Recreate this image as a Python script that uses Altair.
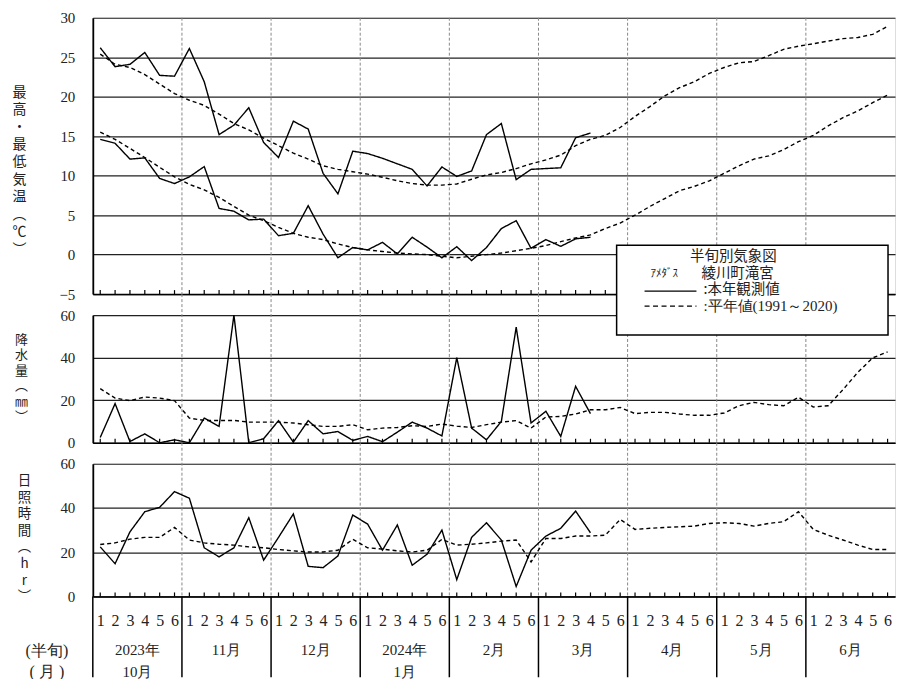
import altair as alt
import pandas as pd

# ---------------- data ----------------
pentads = list(range(1, 55))
month_labels = ["2023年\n10月", "11月", "12月", "2024年\n1月", "2月", "3月", "4月", "5月", "6月"]
month_centers = [3.5 + 6 * k for k in range(9)]
month_bounds = [0.5 + 6 * k for k in range(9)]

tmax_obs = [26.2, 23.8, 24.1, 25.6, 22.7, 22.6, 26.1, 21.9, 15.2, 16.4,
            18.6, 14.2, 12.3, 16.9, 15.9, 10.3, 7.7, 13.1, 12.8, 12.2,
            11.5, 10.8, 8.7, 11.1, 9.9, 10.6, 15.2, 16.6, 9.5, 10.8,
            10.9, 11.0, 14.8, 15.4]
tmax_norm = [25.4, 24.1, 23.7, 22.8, 21.6, 20.4, 19.55, 18.9, 17.8, 16.6,
             15.8, 14.75, 13.8, 12.85, 12.1, 11.25, 10.8, 10.5, 10.2, 9.8,
             9.35, 9.0, 8.8, 8.8, 8.95, 9.55, 10.1, 10.4, 10.9, 11.5,
             12.0, 12.6, 13.8, 14.6, 15.1, 16.1, 17.5, 18.75, 20.1, 21.15,
             21.9, 22.95, 23.7, 24.3, 24.45, 25.2, 26.0, 26.4, 26.7, 27.05,
             27.35, 27.5, 27.9, 28.9]
tmin_obs = [14.6, 14.1, 12.1, 12.25, 9.65, 9.0, 9.85, 11.15, 5.85, 5.5,
            4.4, 4.5, 2.4, 2.7, 6.2, 2.6, -0.4, 0.9, 0.6, 1.55,
            0.1, 2.2, 0.95, -0.4, 1.0, -0.75, 0.9, 3.3, 4.3, 0.8,
            1.9, 1.05, 2.0, 2.2]
tmin_norm = [15.5, 14.6, 13.45, 12.3, 11.05, 9.85, 8.9, 8.2, 7.25, 6.1,
             5.0, 4.3, 3.45, 2.7, 2.2, 1.9, 1.35, 0.9, 0.6, 0.4,
             0.2, 0.1, 0.0, -0.2, -0.4, -0.2, 0.0, 0.2, 0.5, 0.8,
             1.15, 1.65, 2.1, 2.5, 3.3, 4.0, 5.0, 6.1, 7.1, 8.1,
             8.65, 9.35, 10.3, 11.25, 12.1, 12.5, 13.3, 14.3, 15.1, 16.3,
             17.35, 18.2, 19.25, 20.2]
precip_obs = [2.5, 18.4, 0.6, 4.2, 0.0, 1.4, 0.0, 11.6, 7.7, 60.0,
              0.0, 1.9, 10.4, 0.3, 10.4, 4.2, 5.3, 1.1, 3.0, 0.5,
              5.0, 9.7, 6.9, 3.2, 40.0, 6.9, 1.4, 10.0, 54.3, 9.3,
              14.8, 3.0, 26.5, 13.7]
precip_norm = [25.4, 21.0, 19.8, 21.5, 21.0, 19.8, 11.6, 10.5, 10.5, 10.5,
               9.7, 9.7, 9.7, 9.3, 8.5, 7.7, 7.7, 8.5, 6.1, 6.9,
               7.2, 8.0, 7.7, 8.8, 7.8, 7.2, 8.5, 9.7, 10.4, 6.9,
               12.1, 12.4, 13.5, 15.5, 15.5, 16.6, 13.7, 14.3, 14.3, 13.5,
               12.9, 12.9, 14.0, 17.4, 19.0, 17.9, 17.4, 21.4, 16.8, 17.4,
               25.0, 33.1, 39.9, 42.7]
sun_obs = [22.4, 14.8, 29.2, 38.3, 40.3, 47.4, 44.4, 22.0, 17.9, 22.0,
           35.6, 16.4, 26.7, 37.3, 13.6, 13.0, 18.3, 36.8, 32.7, 20.9,
           32.3, 14.1, 19.1, 30.0, 7.6, 26.7, 33.3, 25.5, 4.5, 20.9,
           27.3, 30.8, 38.6, 28.8]
sun_norm = [23.5, 24.2, 25.9, 26.7, 26.7, 31.2, 25.5, 24.2, 23.6, 23.2,
            22.4, 22.0, 21.2, 20.6, 20.1, 20.1, 20.9, 25.8, 22.0, 21.4,
            20.6, 20.1, 20.9, 25.8, 23.2, 23.6, 24.2, 25.0, 25.5, 15.6,
            26.2, 26.2, 27.3, 27.3, 27.7, 34.8, 30.3, 30.8, 31.2, 31.5,
            31.8, 33.0, 33.3, 33.0, 31.8, 33.0, 33.8, 38.3, 30.3, 27.7,
            25.5, 23.2, 21.2, 21.2]

# ---------------- styling ----------------
SERIF = "Liberation Serif"
CJK = "Noto Sans CJK JP"
TXT = "#222"
W, H1, H2, H3 = 804, 277, 128, 133
GAP = 21


def frame(series_list):
    rows = []
    for kind, series, vals in series_list:
        for i, v in enumerate(vals):
            rows.append({"p": pentads[i], "v": v, "series": series, "kind": kind})
    return pd.DataFrame(rows)


temp_df = frame([("max", "obs", tmax_obs), ("max", "norm", tmax_norm),
                 ("min", "obs", tmin_obs), ("min", "norm", tmin_norm)])
precip_df = frame([("p", "obs", precip_obs), ("p", "norm", precip_norm)])
sun_df = frame([("s", "obs", sun_obs), ("s", "norm", sun_norm)])
pent_df = pd.DataFrame({"p": pentads})
mdash_df = pd.DataFrame({"p": month_bounds[1:]})
msep_df = pd.DataFrame({"p": month_bounds})
mlab_df = pd.DataFrame({"p": month_centers, "label": month_labels})
one = pd.DataFrame({"a": [0]})

xscale = alt.Scale(domain=[0.5, 54.5], nice=False, zero=False)
axis_plain = alt.Axis(title=None, labels=False, ticks=False, grid=False,
                      domain=True, domainColor="black", domainWidth=1.5)
axis_bottom = alt.Axis(title=None, values=pentads,
                       labelExpr="((datum.value - 1) % 6) + 1",
                       ticks=False, grid=False, domain=True, domainColor="black",
                       domainWidth=1.5, labelPadding=16, labelFont=SERIF,
                       labelFontSize=16, labelColor=TXT, labelFlush=False,
                       labelOverlap=False, labelBound=False)

dash_scale = alt.Scale(domain=["obs", "norm"], range=[[1, 0], [4, 3]])


def yaxis(values, title, tx, ty, lh, fs):
    return alt.Axis(values=values, title=title, titleAngle=0, titleX=tx, titleY=ty,
                    titleAlign="center", titleBaseline="top", titleFont=CJK,
                    titleFontSize=fs, titleFontWeight="normal", titleColor=TXT,
                    titleLineHeight=lh, grid=True, gridColor="#222", gridWidth=1.2,
                    ticks=False, labelPadding=18, labelFont=SERIF, labelFontSize=15,
                    labelColor=TXT, domain=True, domainColor="black", domainWidth=1.8)


def panel(df, ydomain, yvals, title, tx, ty, lh, fs, H, xaxis, dash_top, extra=None):
    X = lambda f="p": alt.X(f"{f}:Q", scale=xscale, axis=xaxis)
    lines = alt.Chart(df).mark_line(color="black", strokeWidth=1.4).encode(
        x=X(),
        y=alt.Y("v:Q", scale=alt.Scale(domain=ydomain, nice=False, zero=False),
                axis=yaxis(yvals, title, tx, ty, lh, fs)),
        strokeDash=alt.StrokeDash("series:N", scale=dash_scale, legend=None),
        detail="kind:N",
    )
    mdash = alt.Chart(mdash_df).mark_rule(color="#888", strokeDash=[3, 2], strokeWidth=1).encode(
        x=X(), y=alt.value(dash_top), y2=alt.value(H))
    ticks = alt.Chart(pent_df).mark_rule(color="black", strokeWidth=1.2).encode(
        x=X(), y=alt.value(H - 4), y2=alt.value(H))
    layers = [mdash, ticks, lines]
    if extra:
        layers += extra(X)
    return alt.layer(*layers).properties(width=W, height=H)


top = panel(temp_df, [-5, 30], list(range(-5, 31, 5)),
            ["最", "高", "・", "最", "低", "気", "温", "︵", "℃", "︶"],
            -74, 67.5, 17.5, 14, H1, axis_plain, 0)


def legend_layers(X):
    box = alt.Chart(one).mark_rect(fill="white", stroke="black", strokeWidth=1.5).encode(
        x=alt.value(525), x2=alt.value(797), y=alt.value(-70), y2=alt.value(20))
    t1 = alt.Chart(one).mark_text(text="半旬別気象図", font=CJK, fontSize=14.5, color=TXT,
                                  align="center", baseline="middle").encode(
        x=alt.value(642), y=alt.value(-58))
    t2 = alt.Chart(one).mark_text(text="ｱﾒﾀﾞｽ", font=CJK, fontSize=11, color=TXT,
                                  align="left", baseline="middle").encode(
        x=alt.value(559), y=alt.value(-41))
    t3 = alt.Chart(one).mark_text(text="綾川町滝宮", font=CJK, fontSize=14.5, color=TXT,
                                  align="left", baseline="middle").encode(
        x=alt.value(610), y=alt.value(-41))
    s1 = alt.Chart(one).mark_rule(color="black", strokeWidth=1.4).encode(
        x=alt.value(553), x2=alt.value(605), y=alt.value(-24))
    s2 = alt.Chart(one).mark_rule(color="black", strokeWidth=1.4, strokeDash=[5, 3.5]).encode(
        x=alt.value(553), x2=alt.value(605), y=alt.value(-9))
    t4 = alt.Chart(one).mark_text(text=":本年観測値", font=CJK, fontSize=14.5, color=TXT,
                                  align="left", baseline="middle").encode(
        x=alt.value(612), y=alt.value(-25))
    t5 = alt.Chart(one).mark_text(text=":平年値(1991～2020)", font=SERIF, fontSize=15, color=TXT,
                                  align="left", baseline="middle").encode(
        x=alt.value(612), y=alt.value(-9))
    return [box, t1, t2, t3, s1, s2, t4, t5]


mid = panel(precip_df, [0, 60], [0, 20, 40, 60],
            ["降", "水", "量", "︵", "㎜", "︶"],
            -72, 18, 15.6, 13, H2, axis_plain, -GAP, legend_layers)


def bottom_layers(X):
    sep = alt.Chart(msep_df).mark_rule(color="black", strokeWidth=1.5).encode(
        x=X(), y=alt.value(H3), y2=alt.value(H3 + 81))
    mlab = alt.Chart(mlab_df).mark_text(font=SERIF, fontSize=15, color=TXT, align="center",
                                        baseline="top", lineBreak="\n", lineHeight=22).encode(
        x=X(), y=alt.value(H3 + 47), text="label:N")
    l1 = alt.Chart(one).mark_text(text="(半旬)", font=SERIF, fontSize=16, color=TXT,
                                  align="center", baseline="middle").encode(
        x=alt.value(-46), y=alt.value(H3 + 55))
    l2 = alt.Chart(one).mark_text(text="( 月 )", font=SERIF, fontSize=16, color=TXT,
                                  align="center", baseline="middle").encode(
        x=alt.value(-46), y=alt.value(H3 + 76))
    return [sep, mlab, l1, l2]


bot = panel(sun_df, [0, 60], [0, 20, 40, 60],
            ["日", "照", "時", "間", "︵", "h", "r", "︶"],
            -69, 10, 16.6, 13.5, H3, axis_bottom, -GAP, bottom_layers)

chart = alt.VConcatChart(vconcat=[top, mid, bot], spacing=GAP, bounds="flush").properties(
    padding={"left": 3, "top": 1, "right": 0, "bottom": 0}
).configure_view(stroke=None).configure(background="white")

chart.save("out.html", embed_options={"renderer": "svg", "actions": False})
